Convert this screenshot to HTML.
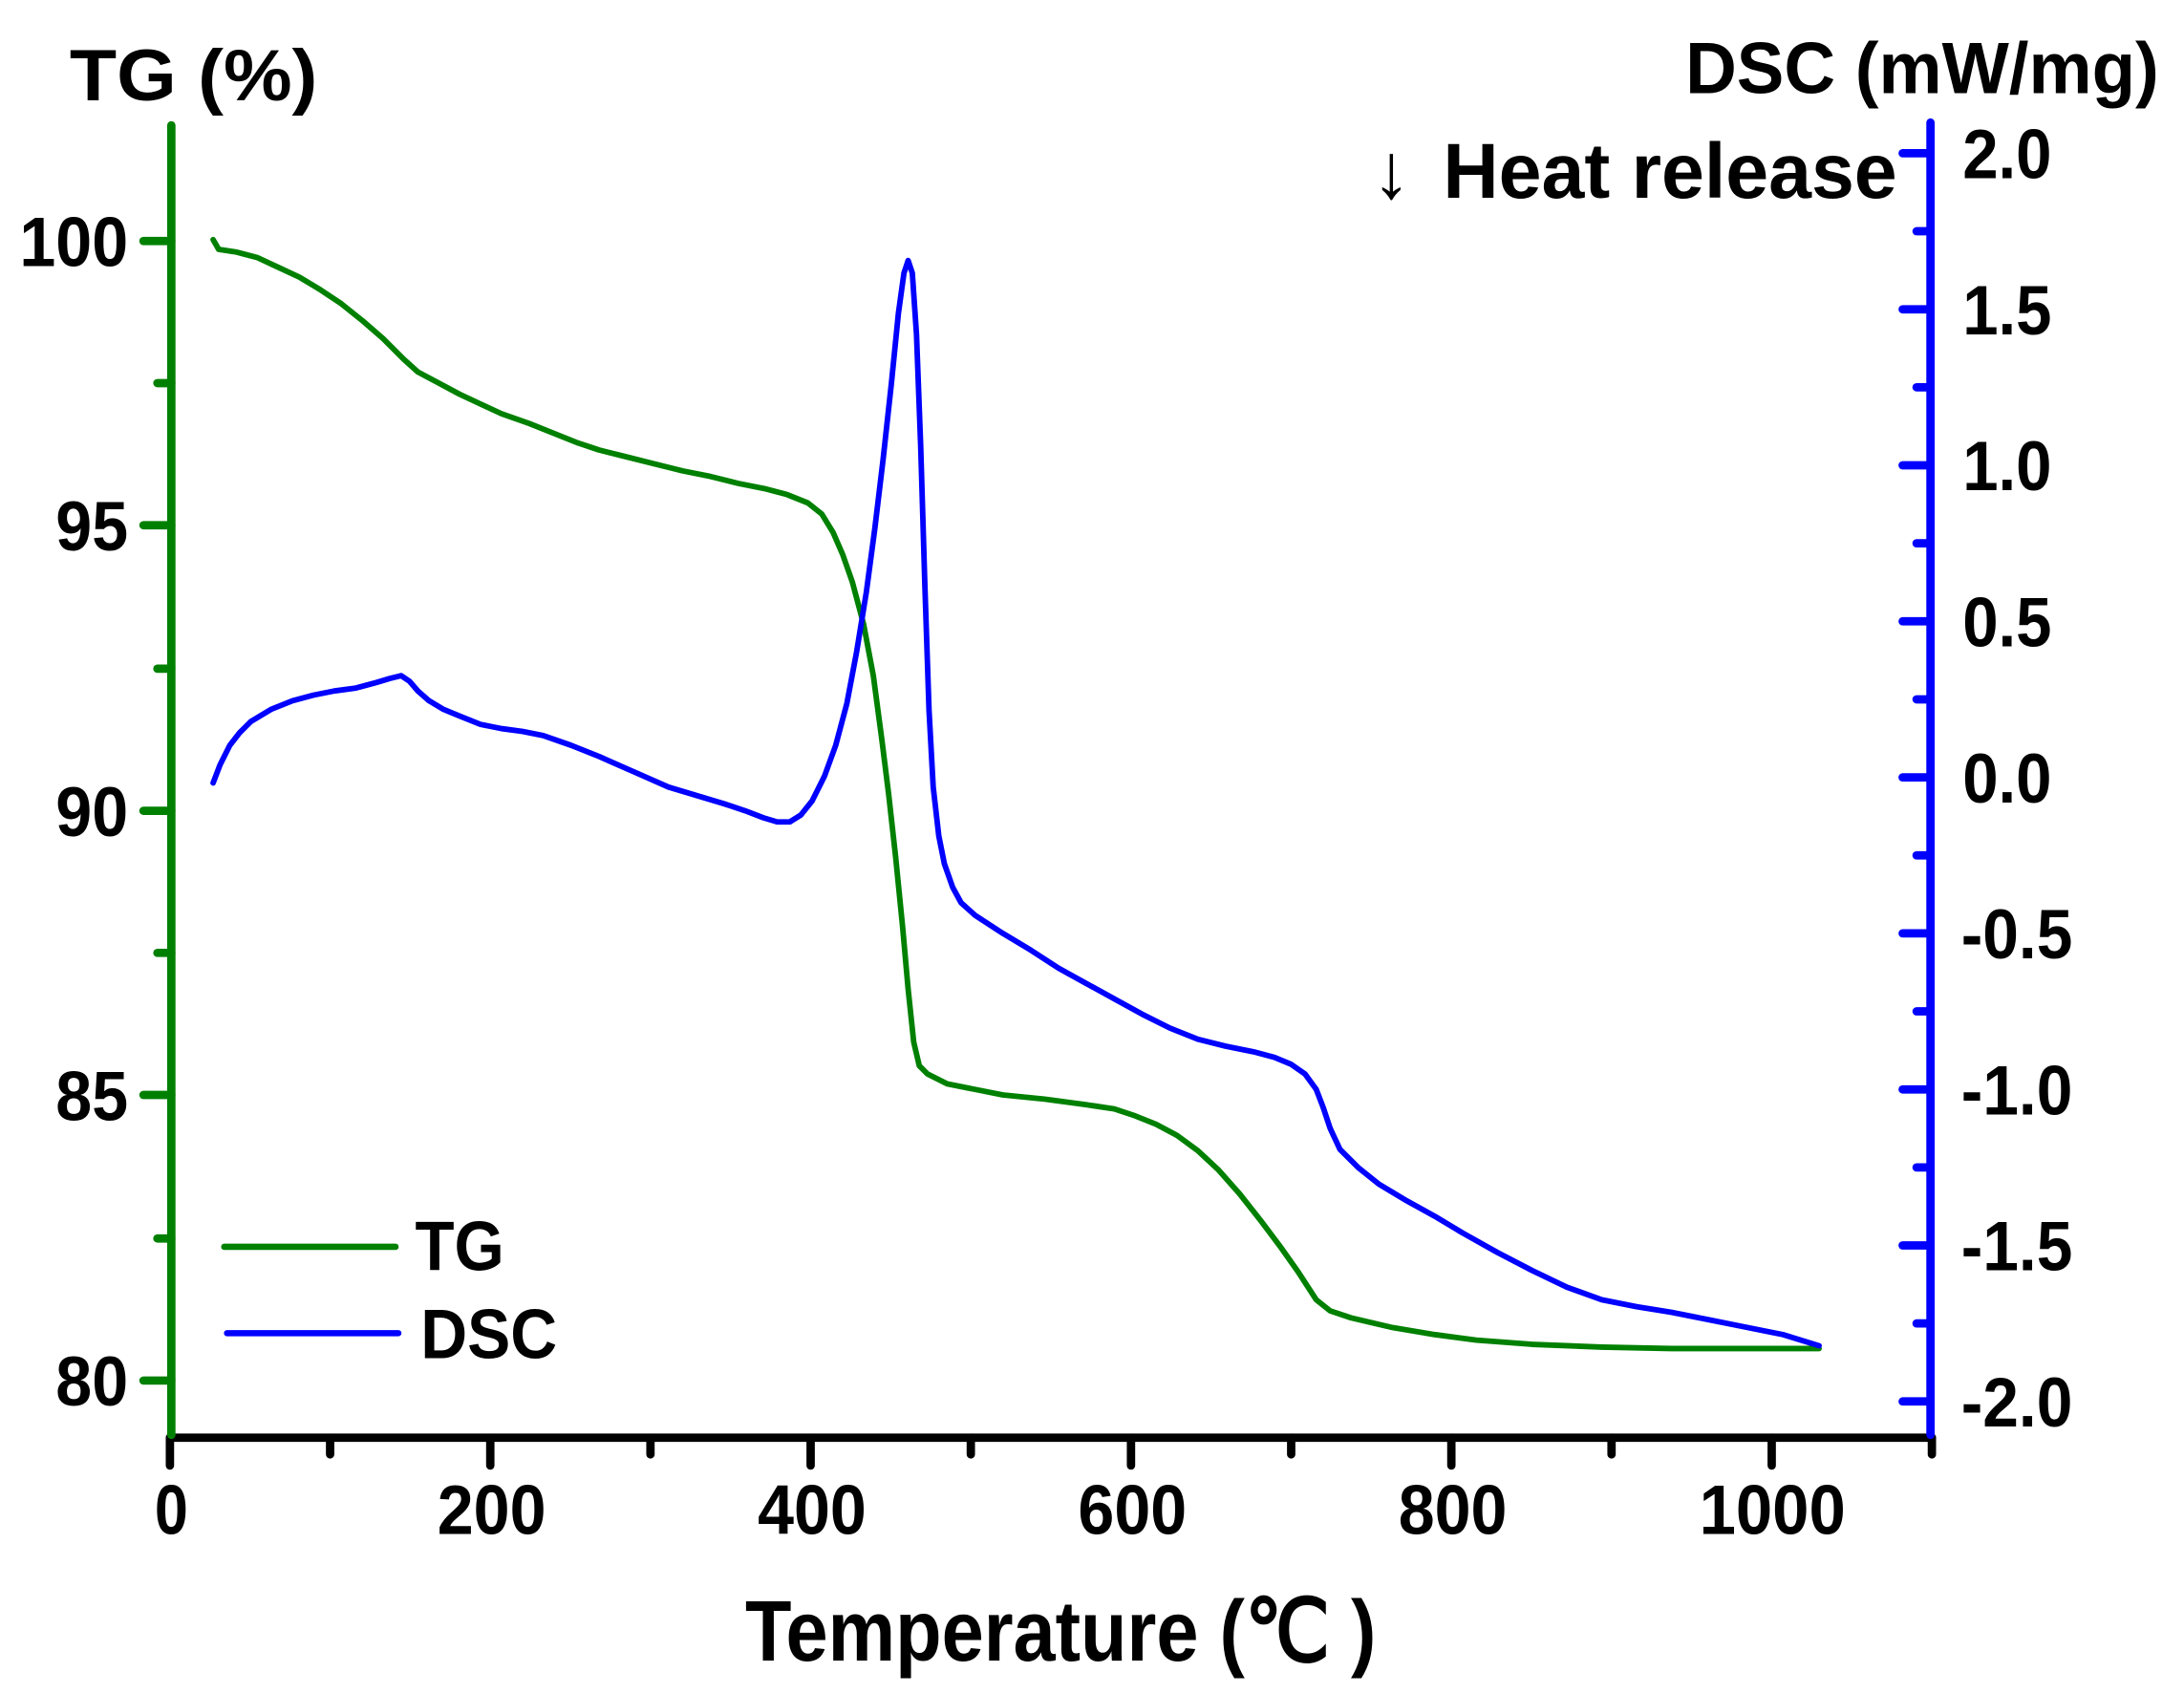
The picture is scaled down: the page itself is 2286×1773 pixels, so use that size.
<!DOCTYPE html>
<html><head><meta charset="utf-8"><style>html,body{margin:0;padding:0;background:#fff}svg{display:block}</style></head>
<body>
<svg width="2286" height="1773" viewBox="0 0 1568 1216" preserveAspectRatio="none" xmlns="http://www.w3.org/2000/svg" font-family="Liberation Sans, Arial, sans-serif" font-weight="bold">
<g stroke-linecap="round" fill="none">
<line x1="122" y1="1032" x2="1387" y2="1032" stroke="#000" stroke-width="6"/>
<g stroke="#000" stroke-width="6">
<line x1="122" y1="1032" x2="122" y2="1052"/><line x1="352" y1="1032" x2="352" y2="1052"/><line x1="582" y1="1032" x2="582" y2="1052"/><line x1="812" y1="1032" x2="812" y2="1052"/><line x1="1042" y1="1032" x2="1042" y2="1052"/><line x1="1272" y1="1032" x2="1272" y2="1052"/>
<line x1="237" y1="1032" x2="237" y2="1044"/><line x1="467" y1="1032" x2="467" y2="1044"/><line x1="697" y1="1032" x2="697" y2="1044"/><line x1="927" y1="1032" x2="927" y2="1044"/><line x1="1157" y1="1032" x2="1157" y2="1044"/><line x1="1387" y1="1032" x2="1387" y2="1044"/>
</g>
<line x1="123" y1="90" x2="123" y2="1030" stroke="#008000" stroke-width="6"/>
<g stroke="#008000" stroke-width="6">
<line x1="103" y1="173" x2="123" y2="173"/><line x1="103" y1="377" x2="123" y2="377"/><line x1="103" y1="582" x2="123" y2="582"/><line x1="103" y1="786" x2="123" y2="786"/><line x1="103" y1="991" x2="123" y2="991"/>
<line x1="113" y1="275" x2="123" y2="275"/><line x1="113" y1="480" x2="123" y2="480"/><line x1="113" y1="684" x2="123" y2="684"/><line x1="113" y1="889" x2="123" y2="889"/>
</g>
<line x1="1386" y1="88" x2="1386" y2="1030" stroke="#0000ff" stroke-width="6"/>
<g stroke="#0000ff" stroke-width="6">
<line x1="1366" y1="110" x2="1386" y2="110"/><line x1="1366" y1="222" x2="1386" y2="222"/><line x1="1366" y1="334" x2="1386" y2="334"/><line x1="1366" y1="446" x2="1386" y2="446"/><line x1="1366" y1="558" x2="1386" y2="558"/><line x1="1366" y1="670" x2="1386" y2="670"/><line x1="1366" y1="782" x2="1386" y2="782"/><line x1="1366" y1="894" x2="1386" y2="894"/><line x1="1366" y1="1006" x2="1386" y2="1006"/>
<line x1="1376" y1="166" x2="1386" y2="166"/><line x1="1376" y1="278" x2="1386" y2="278"/><line x1="1376" y1="390" x2="1386" y2="390"/><line x1="1376" y1="502" x2="1386" y2="502"/><line x1="1376" y1="614" x2="1386" y2="614"/><line x1="1376" y1="726" x2="1386" y2="726"/><line x1="1376" y1="838" x2="1386" y2="838"/><line x1="1376" y1="950" x2="1386" y2="950"/>
</g>
<polyline stroke="#008000" stroke-width="4" stroke-linejoin="round" points="153,172 157,179 170,181 185,185 200,192 215,199 230,208 245,218 260,230 275,243 290,258 300,267 315,275 330,283 345,290 360,297 380,304 400,312 415,318 430,323 450,328 470,333 490,338 510,342 530,347 550,351 565,355 580,361 590,369 598,382 605,398 612,418 620,448 627,485 633,530 638,570 643,615 648,665 652,710 656,748 660,765 666,771 680,778 700,782 720,786 750,789 780,793 800,796 815,801 830,807 845,815 860,826 875,840 890,857 905,876 920,896 932,913 945,933 955,941 970,946 1000,953 1030,958 1060,962 1100,965 1150,967 1200,968 1250,968 1306,968"/>
<polyline stroke="#0000ff" stroke-width="4" stroke-linejoin="round" points="153,562 158,549 165,535 172,526 180,518 195,509 210,503 225,499 240,496 255,494 270,490 280,487 288,485 294,489 300,496 308,503 318,509 330,514 345,520 360,523 375,525 390,528 410,535 430,543 455,554 480,565 500,571 520,577 535,582 548,587 558,590 567,590 575,585 583,575 592,557 600,535 608,505 615,468 622,425 628,380 634,330 640,275 645,225 649,196 652,187 655,196 658,240 661,320 664,420 667,510 670,565 674,600 678,620 684,637 690,648 700,657 720,670 740,682 760,695 780,706 800,717 820,728 840,738 860,746 880,751 900,755 915,759 927,764 937,771 945,782 950,795 955,810 962,825 975,838 990,850 1010,862 1030,873 1050,885 1075,899 1100,912 1125,924 1150,933 1175,938 1200,942 1225,947 1250,952 1280,958 1306,966"/>
<line x1="161" y1="895" x2="284" y2="895" stroke="#008000" stroke-width="4.5"/>
<line x1="163" y1="957" x2="286" y2="957" stroke="#0000ff" stroke-width="4.5"/>
</g>
<g fill="#000" font-size="50" lengthAdjust="spacingAndGlyphs">
<text x="298" y="912" textLength="64" lengthAdjust="spacingAndGlyphs">TG</text>
<text x="302" y="975" textLength="98" lengthAdjust="spacingAndGlyphs">DSC</text>
<text x="14" y="191" textLength="78" lengthAdjust="spacingAndGlyphs">100</text>
<text x="40" y="395" textLength="52" lengthAdjust="spacingAndGlyphs">95</text>
<text x="40" y="600" textLength="52" lengthAdjust="spacingAndGlyphs">90</text>
<text x="40" y="804" textLength="52" lengthAdjust="spacingAndGlyphs">85</text>
<text x="40" y="1009" textLength="52" lengthAdjust="spacingAndGlyphs">80</text>
<text x="1409" y="128" textLength="64" lengthAdjust="spacingAndGlyphs">2.0</text>
<text x="1409" y="240" textLength="64" lengthAdjust="spacingAndGlyphs">1.5</text>
<text x="1409" y="352" textLength="64" lengthAdjust="spacingAndGlyphs">1.0</text>
<text x="1409" y="464" textLength="64" lengthAdjust="spacingAndGlyphs">0.5</text>
<text x="1409" y="576" textLength="64" lengthAdjust="spacingAndGlyphs">0.0</text>
<text x="1408" y="688" textLength="80" lengthAdjust="spacingAndGlyphs">-0.5</text>
<text x="1408" y="800" textLength="80" lengthAdjust="spacingAndGlyphs">-1.0</text>
<text x="1408" y="912" textLength="80" lengthAdjust="spacingAndGlyphs">-1.5</text>
<text x="1408" y="1024" textLength="80" lengthAdjust="spacingAndGlyphs">-2.0</text>
<text x="111" y="1101" textLength="24" lengthAdjust="spacingAndGlyphs">0</text>
<text x="314" y="1101" textLength="78" lengthAdjust="spacingAndGlyphs">200</text>
<text x="544" y="1101" textLength="78" lengthAdjust="spacingAndGlyphs">400</text>
<text x="774" y="1101" textLength="78" lengthAdjust="spacingAndGlyphs">600</text>
<text x="1004" y="1101" textLength="78" lengthAdjust="spacingAndGlyphs">800</text>
<text x="1220" y="1101" textLength="105" lengthAdjust="spacingAndGlyphs">1000</text>
<text x="50" y="72" font-size="52" textLength="178" lengthAdjust="spacingAndGlyphs">TG (%)</text>
<text x="1210" y="67" font-size="52" textLength="340" lengthAdjust="spacingAndGlyphs">DSC (mW/mg)</text>
<text x="985" y="142" font-size="56" textLength="28" lengthAdjust="spacingAndGlyphs">↓</text>
<text x="1036" y="142" font-size="56" textLength="326" lengthAdjust="spacingAndGlyphs">Heat release</text>
<text x="535" y="1192" font-size="62" textLength="453" lengthAdjust="spacingAndGlyphs">Temperature (℃ )</text>
</g>
</svg>
</body></html>
